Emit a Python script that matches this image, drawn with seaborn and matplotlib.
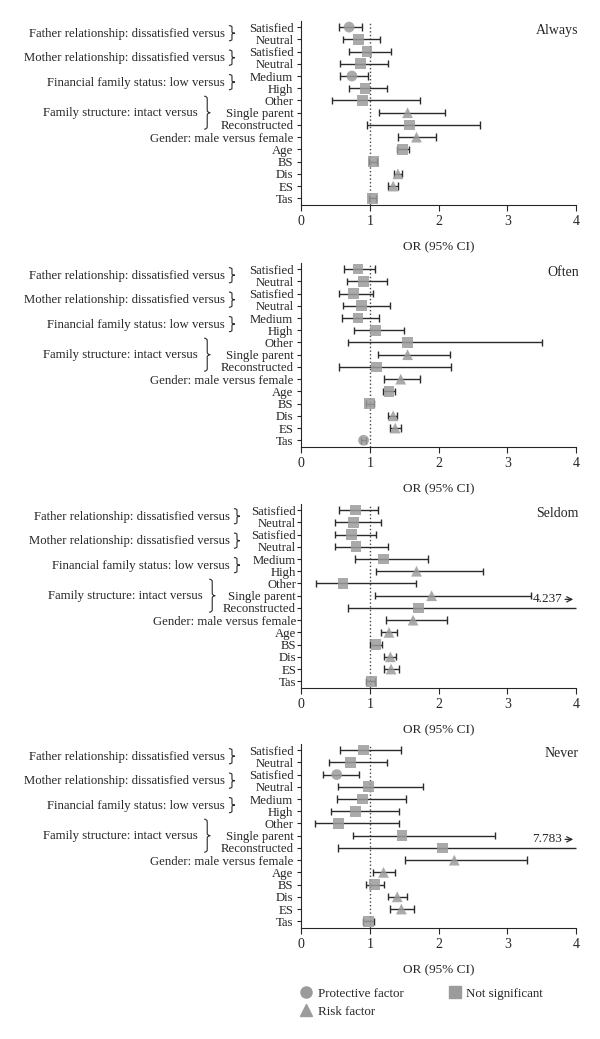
import numpy as np
import matplotlib
matplotlib.use("Agg")
import matplotlib.pyplot as plt
import seaborn as sns
import pandas as pd
from matplotlib.path import Path
from matplotlib.patches import PathPatch
from matplotlib.lines import Line2D
from matplotlib.transforms import blended_transform_factory

# row labels (top to bottom)
rows = ["Satisfied", "Neutral", "Satisfied", "Neutral", "Medium", "High",
        "Other", "Single parent", "Reconstructed", "Gender: male versus female",
        "Age", "BS", "Dis", "ES", "Tas"]

# group labels: (text, first row, last row)
groups = [("Father relationship: dissatisfied versus", 0, 1),
          ("Mother relationship: dissatisfied versus", 2, 3),
          ("Financial family status: low versus", 4, 5),
          ("Family structure: intact versus", 6, 8)]

panels = ["Always", "Often", "Seldom", "Never"]

# P = protective factor, R = risk factor, N = not significant
always_or = [0.70, 0.84, 0.96, 0.86, 0.74, 0.93, 0.89, 1.55, 1.58, 1.68, 1.48, 1.05, 1.41, 1.34, 1.04]
always_lo = [0.55, 0.61, 0.70, 0.57, 0.56, 0.70, 0.45, 1.14, 0.96, 1.41, 1.40, 0.99, 1.35, 1.27, 0.99]
always_hi = [0.89, 1.15, 1.31, 1.26, 0.98, 1.25, 1.73, 2.10, 2.61, 1.97, 1.57, 1.10, 1.47, 1.41, 1.09]
always_kind = ["P", "N", "N", "N", "P", "N", "N", "R", "N", "R", "N", "N", "R", "R", "N"]

often_or = [0.83, 0.91, 0.76, 0.88, 0.83, 1.08, 1.55, 1.55, 1.10, 1.45, 1.28, 1.00, 1.34, 1.37, 0.91]
often_lo = [0.62, 0.67, 0.55, 0.61, 0.60, 0.77, 0.69, 1.12, 0.55, 1.21, 1.19, 0.95, 1.27, 1.30, 0.87]
often_hi = [1.08, 1.25, 1.04, 1.29, 1.13, 1.50, 3.51, 2.17, 2.18, 1.73, 1.36, 1.06, 1.40, 1.45, 0.95]
often_kind = ["N", "N", "N", "N", "N", "N", "N", "R", "N", "R", "N", "N", "R", "R", "P"]

seldom_or = [0.79, 0.76, 0.73, 0.80, 1.20, 1.68, 0.61, 1.90, 1.71, 1.63, 1.28, 1.09, 1.30, 1.31, 1.02]
seldom_lo = [0.55, 0.50, 0.49, 0.50, 0.79, 1.09, 0.22, 1.08, 0.68, 1.23, 1.17, 1.01, 1.21, 1.21, 0.95]
seldom_hi = [1.12, 1.16, 1.09, 1.26, 1.84, 2.64, 1.67, 3.35, 4.237, 2.12, 1.40, 1.18, 1.38, 1.42, 1.08]
seldom_kind = ["N", "N", "N", "N", "N", "R", "N", "R", "N", "R", "R", "N", "R", "R", "N"]

never_or = [0.91, 0.72, 0.52, 0.98, 0.89, 0.79, 0.55, 1.47, 2.06, 2.23, 1.20, 1.07, 1.40, 1.46, 0.98]
never_lo = [0.56, 0.40, 0.32, 0.54, 0.52, 0.43, 0.21, 0.76, 0.54, 1.51, 1.05, 0.95, 1.27, 1.29, 0.90]
never_hi = [1.46, 1.25, 0.85, 1.77, 1.52, 1.42, 1.42, 2.82, 7.783, 3.28, 1.36, 1.20, 1.54, 1.64, 1.06]
never_kind = ["N", "N", "P", "N", "N", "N", "N", "N", "N", "R", "R", "N", "R", "R", "N"]

panel_data = {
    "Always": (always_or, always_lo, always_hi, always_kind),
    "Often": (often_or, often_lo, often_hi, often_kind),
    "Seldom": (seldom_or, seldom_lo, seldom_hi, seldom_kind),
    "Never": (never_or, never_lo, never_hi, never_kind),
}

sns.set_style("ticks")
plt.rcParams['font.family'] = ['Liberation Serif', 'DejaVu Serif']
plt.rcParams['font.size'] = 9.2

MARK = "#9b9b9b"
LINE = "#2b2b2b"
XMAX = 4
FS = 9.2
markers = {"P": "o", "R": "^", "N": "s"}


def draw_brace(ax, x, y0, y1, w, d):
    trans = blended_transform_factory(ax.transAxes, ax.transData)
    ym = (y0 + y1) / 2
    xm = x + w / 2
    verts = [(x, y0), (xm, y0), (xm, y0 + d), (xm, ym - d), (xm, ym), (x + w, ym),
             (xm, ym), (xm, ym + d), (xm, y1 - d), (xm, y1), (x, y1)]
    codes = [Path.MOVETO, Path.CURVE3, Path.CURVE3, Path.LINETO, Path.CURVE3, Path.CURVE3,
             Path.CURVE3, Path.CURVE3, Path.LINETO, Path.CURVE3, Path.CURVE3]
    ax.add_patch(PathPatch(Path(verts, codes), fill=False, lw=0.8, color=LINE,
                           transform=trans, clip_on=False))


fig = plt.figure(figsize=(6, 10.39), dpi=100)
H = 1039.0
bottoms_px = [205, 447, 688, 928]
idx = np.arange(len(rows))

for name, bpx in zip(panels, bottoms_px):
    ax = fig.add_axes([301 / 600, 1 - bpx / H, 275 / 600, 184 / H])
    o, lo, hi, kind = panel_data[name]
    df = pd.DataFrame({"row": idx, "or": o, "lo": lo, "hi": hi, "kind": kind})

    # confidence intervals
    cap = 0.3
    for _, r in df.iterrows():
        right = min(r["hi"], XMAX)
        ax.hlines(r["row"], r["lo"], right, color=LINE, lw=1, zorder=2, clip_on=False)
        ax.vlines(r["lo"], r["row"] - cap, r["row"] + cap, color=LINE, lw=1, zorder=2)
        if r["hi"] <= XMAX:
            ax.vlines(r["hi"], r["row"] - cap, r["row"] + cap, color=LINE, lw=1, zorder=2)
        else:
            ax.text(XMAX - 0.2, r["row"] - 0.7, f"{r['hi']:.3f}", ha="right", va="center",
                    fontsize=9.5)
            ax.annotate("", xy=(XMAX, r["row"] - 0.7), xytext=(XMAX - 0.2, r["row"] - 0.7),
                        arrowprops=dict(arrowstyle="->", lw=0.9, color=LINE))

    sns.scatterplot(data=df, x="or", y="row", style="kind", markers=markers,
                    color=MARK, s=60, linewidth=0, alpha=0.85, legend=False,
                    zorder=3, ax=ax)

    ax.axvline(1, ls=":", color="#444444", lw=1, zorder=1)
    ax.set_xlim(0, XMAX)
    ax.set_ylim(len(rows) - 0.45, -0.5)
    ax.set_xticks(range(0, XMAX + 1))
    ax.set_yticks(idx)
    pad = 0.5 if name == "Seldom" else 2.5
    ax.set_yticklabels(rows)
    ax.tick_params(axis="y", length=3, pad=pad, labelsize=FS)
    ax.tick_params(axis="x", length=4, labelsize=10)
    ax.set_xlabel("OR (95% CI)", fontsize=9.5, labelpad=9)
    ax.set_ylabel("")
    sns.despine(ax=ax)
    ax.text(1.01, 0.985, name, transform=ax.transAxes, ha="right", va="top", fontsize=10)

    shift = 5 / 275 if name == "Seldom" else 0
    trans = blended_transform_factory(ax.transAxes, ax.transData)
    for label, r0, r1 in groups:
        if r1 - r0 == 1:
            xt, xb, pd_, d = -0.277, -0.262, 0.12, 0.12
        else:
            xt, xb, pd_, d = -0.375, -0.352, 0.35, 0.2
        ax.text(xt + shift, (r0 + r1) / 2 + 0.05, label, transform=trans, ha="right",
                va="center", fontsize=FS)
        draw_brace(ax, xb + shift, r0 - pd_, r1 + pd_, 0.022, d)

handles = [Line2D([], [], ls="", marker="o", color=MARK, markersize=8),
           Line2D([], [], ls="", marker="^", color=MARK, markersize=8),
           Line2D([], [], ls="", marker="s", color=MARK, markersize=8)]
fig.legend(handles, ["Protective factor", "Risk factor", "Not significant"],
           loc="upper left", bbox_to_anchor=(288 / 600, 1 - 976 / H), ncol=2,
           frameon=False, fontsize=9.4, handlelength=1.0, handletextpad=0.4,
           columnspacing=3.4, labelspacing=0.45)

fig.savefig("out.png", dpi=100)
